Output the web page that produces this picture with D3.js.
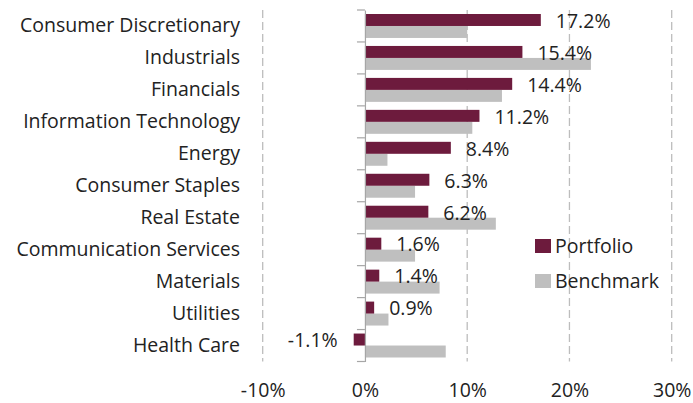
<!DOCTYPE html>
<html>
<head>
<meta charset="utf-8">
<script src="https://cdn.jsdelivr.net/npm/d3@7"></script>
<style>
  body { margin: 0; background: #fff; }
  svg text { font-family: "Open Sans", sans-serif; fill: #222; }
</style>
</head>
<body>
<div id="chart"></div>
<script>
const sectors = ['Consumer Discretionary','Industrials','Financials','Information Technology','Energy',
  'Consumer Staples','Real Estate','Communication Services','Materials','Utilities','Health Care']
const portfolio = [17.2, 15.4, 14.4, 11.2, 8.4, 6.3, 6.2, 1.6, 1.4, 0.9, -1.1]
const benchmark = [10.0, 22.1, 13.4, 10.5, 2.2, 4.9, 12.8, 4.9, 7.3, 2.3, 7.9]
const xTicks = [-10, 0, 10, 20, 30]
const seriesNames = ['Portfolio', 'Benchmark']
const colors = ['#6d1b3d', '#bfbfbf']

const W = 693, H = 403
const fontSize = 19.5

const x = d3.scaleLinear().domain([-10, 30]).range([262.7, 671.7])
const y = d3.scaleBand().domain(sectors).range([10, 361.5]).padding(0)

// Excel style labels use a plain hyphen for negatives
const pct = d => d3.format('.1f')(d).replace('\u2212', '-') + '%'

const svg = d3.select('#chart').append('svg')
  .attr('width', W)
  .attr('height', H)

/* dashed gridlines */
svg.append('g').attr('class','grid')
  .selectAll('line').data(xTicks.filter(d => d !== 0))
  .enter().append('line')
    .attr('x1', d => x(d)).attr('x2', d => x(d))
    .attr('y1', y.range()[0]).attr('y2', y.range()[1])
    .attr('stroke', '#bdbdbd')
    .attr('stroke-width', 1.3)
    .attr('stroke-dasharray', '8,4')

/* bars */
const inset = 4
const barH = (y.bandwidth() - inset * 2) / 2
const rows = sectors.map((s, i) => ({ sector: s, p: portfolio[i], b: benchmark[i] }))

const bars = svg.append('g').attr('class','bars')
bars.selectAll('.bench').data(rows).enter().append('rect')
  .attr('class','bench')
  .attr('x', d => x(Math.min(0, d.b)))
  .attr('y', d => y(d.sector) + inset + barH)
  .attr('width', d => Math.abs(x(d.b) - x(0)))
  .attr('height', barH)
  .attr('fill', colors[1])
bars.selectAll('.port').data(rows).enter().append('rect')
  .attr('class','port')
  .attr('x', d => x(Math.min(0, d.p)))
  .attr('y', d => y(d.sector) + inset)
  .attr('width', d => Math.abs(x(d.p) - x(0)))
  .attr('height', barH)
  .attr('fill', colors[0])

/* value labels */
svg.append('g').attr('class','labels')
  .selectAll('text').data(rows).enter().append('text')
    .attr('x', d => d.p >= 0 ? x(d.p) + 15 : x(d.p) - 16)
    .attr('y', d => y(d.sector) + inset + barH / 2 + 1)
    .attr('dy', '0.35em')
    .attr('text-anchor', d => d.p >= 0 ? 'start' : 'end')
    .style('font-size', fontSize + 'px')
    .text(d => pct(d.p))

/* category axis at zero */
const yAxis = svg.append('g')
  .attr('transform', `translate(${x(0)},0)`)
  .call(d3.axisLeft(y).tickSize(0).tickPadding(x(0) - 240))
yAxis.select('.domain').attr('stroke', '#a6a6a6').attr('stroke-width', 1.2)
yAxis.selectAll('.tick text').style('font-size', fontSize + 'px').attr('fill', '#222')

/* boundary ticks */
const bounds = sectors.map(s => y(s)).concat([y.range()[1]])
svg.append('g').selectAll('line').data(bounds).enter().append('line')
  .attr('x1', x(0) - 8).attr('x2', x(0))
  .attr('y1', d => d).attr('y2', d => d)
  .attr('stroke', '#a6a6a6').attr('stroke-width', 1.2)

/* value axis labels */
const xAxis = svg.append('g')
  .attr('transform', 'translate(0,397)')
  .call(d3.axisBottom(x).tickValues(xTicks).tickSize(0).tickPadding(0).tickFormat(d => d + '%'))
xAxis.select('.domain').remove()
xAxis.selectAll('.tick text').attr('dy', 0).style('font-size', fontSize + 'px').attr('fill', '#222')

/* legend */
const legend = svg.append('g').attr('class','legend')
  .selectAll('g').data(seriesNames).enter().append('g')
    .attr('transform', (d, i) => `translate(535,${246 + i * 35})`)
legend.append('rect')
  .attr('x', 0).attr('y', -7).attr('width', 16).attr('height', 14)
  .attr('fill', (d, i) => colors[i])
legend.append('text')
  .attr('x', 20).attr('y', 0).attr('dy', '0.35em')
  .style('font-size', fontSize + 'px')
  .text(d => d)
</script>
</body>
</html>
